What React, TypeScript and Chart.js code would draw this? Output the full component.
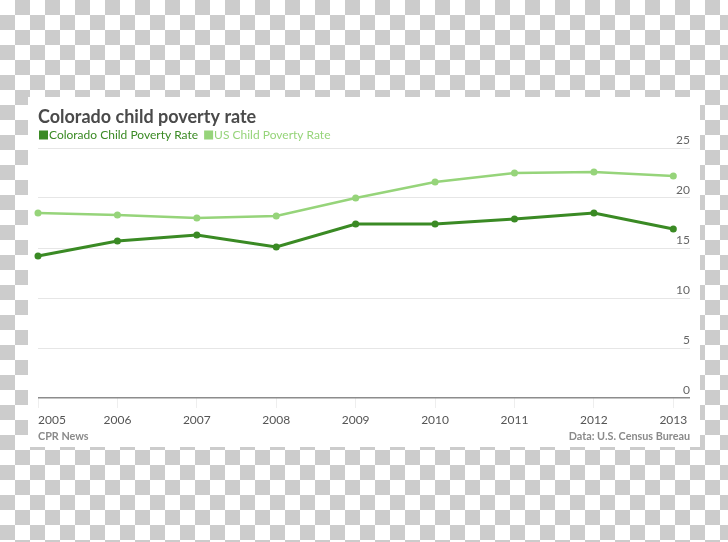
import React, { useEffect, useRef } from "react";
import { Chart, registerables } from "chart.js";

Chart.register(...registerables);

const years = [2005, 2006, 2007, 2008, 2009, 2010, 2011, 2012, 2013];
const coloradoRate = [14.2, 15.7, 16.3, 15.1, 17.4, 17.4, 17.9, 18.5, 16.9];
const usRate = [18.5, 18.3, 18.0, 18.2, 20.0, 21.6, 22.5, 22.6, 22.2];
const yTicks = [0, 5, 10, 15, 20, 25];
const seriesNames = ["Colorado Child Poverty Rate", "US Child Poverty Rate"];
const titleText = "Colorado child poverty rate";
const sourceLeft = "CPR News";
const sourceRight = "Data: U.S. Census Bureau";

const FONT = "Lato, 'Open Sans', sans-serif";
const DARK = "#3a8a24";
const LIGHT = "#96d47a";

const overlayPlugin = {
  id: "overlay",
  afterDraw(chart: any) {
    const ctx = chart.ctx as CanvasRenderingContext2D;
    const { left, right, bottom } = chart.chartArea;
    const xScale = chart.scales.x;
    ctx.save();
    // legend
    let x = left;
    const ly = 38;
    ctx.font = `12px ${FONT}`;
    ctx.textBaseline = "middle";
    ctx.textAlign = "left";
    chart.data.datasets.forEach((ds: any) => {
      ctx.fillStyle = ds.borderColor;
      ctx.fillRect(x + 1, ly - 4.5, 9, 9);
      ctx.fillText(ds.label, x + 11, ly);
      x += 11 + ctx.measureText(ds.label).width + 5;
    });
    // x labels
    ctx.font = `12px ${FONT}`;
    ctx.fillStyle = "#555555";
    years.forEach((yr, i) => {
      const px = xScale.getPixelForValue(yr);
      ctx.textAlign = i === 0 ? "left" : "center";
      ctx.fillText(String(yr), px, bottom + 22);
    });
    // footer
    ctx.font = `bold 10.8px ${FONT}`;
    ctx.fillStyle = "#8a8a8a";
    ctx.textAlign = "left";
    ctx.fillText(sourceLeft, left, bottom + 39);
    ctx.textAlign = "right";
    ctx.fillText(sourceRight, right, bottom + 39);
    ctx.restore();
  },
};

export default function App() {
  const ref = useRef<HTMLCanvasElement>(null);
  useEffect(() => {
    if (!ref.current) return;
    const chart = new Chart(ref.current, {
      type: "line",
      data: {
        datasets: [
          {
            label: seriesNames[0],
            data: years.map((y, i) => ({ x: y, y: coloradoRate[i] })),
            borderColor: DARK,
            backgroundColor: DARK,
            borderWidth: 3,
            pointRadius: 3.5,
            pointBorderWidth: 0,
            pointBackgroundColor: DARK,
            tension: 0,
            clip: false,
          },
          {
            label: seriesNames[1],
            data: years.map((y, i) => ({ x: y, y: usRate[i] })),
            borderColor: LIGHT,
            backgroundColor: LIGHT,
            borderWidth: 2.5,
            pointRadius: 3.5,
            pointBorderWidth: 0,
            pointBackgroundColor: LIGHT,
            tension: 0,
            clip: false,
          },
        ],
      },
      options: {
        responsive: false,
        animation: false,
        layout: { padding: { left: 10, right: 10, top: 0, bottom: 39 } },
        plugins: {
          legend: { display: false },
          tooltip: { enabled: false },
          title: {
            display: true,
            text: titleText,
            align: "start",
            color: "#4a4a4a",
            font: { family: FONT, size: 18, weight: "bold" },
            padding: { top: 9.5, bottom: 19.9 },
          },
        },
        scales: {
          x: {
            type: "linear",
            min: years[0],
            max: years[years.length - 1] + 0.21,
            afterBuildTicks: (s: any) => {
              s.ticks = years.map((v) => ({ value: v }));
            },
            ticks: { display: false },
            border: { display: false },
            grid: {
              drawOnChartArea: false,
              drawTicks: true,
              tickLength: 10,
              color: "#eeeeee",
            },
          },
          y: {
            position: "right",
            min: 0,
            max: 25,
            afterBuildTicks: (s: any) => {
              s.ticks = yTicks.map((v) => ({ value: v }));
            },
            border: { display: false },
            grid: {
              drawTicks: false,
              color: (c: any) => (c.tick && c.tick.value === 0 ? "#8c8c8c" : "#e6e6e6"),
              lineWidth: (c: any) => (c.tick && c.tick.value === 0 ? 1.5 : 1),
            },
            ticks: {
              mirror: true,
              padding: 0,
              labelOffset: -7.5,
              color: "#666666",
              font: { family: FONT, size: 12 },
            },
          },
        },
      },
      plugins: [overlayPlugin],
    } as any);
    return () => chart.destroy();
  }, []);

  return (
    <div
      style={{
        position: "fixed",
        left: 0,
        top: 0,
        width: 728,
        height: 542,
        background: "repeating-conic-gradient(#cccccc 0% 25%, #ffffff 0% 50%) 0 0 / 30px 30px",
      }}
    >
      <div
        style={{
          position: "absolute",
          left: 28,
          top: 97,
          width: 672,
          height: 350,
          background: "#ffffff",
        }}
      >
        <canvas ref={ref} width={672} height={350} style={{ display: "block" }} />
      </div>
    </div>
  );
}
